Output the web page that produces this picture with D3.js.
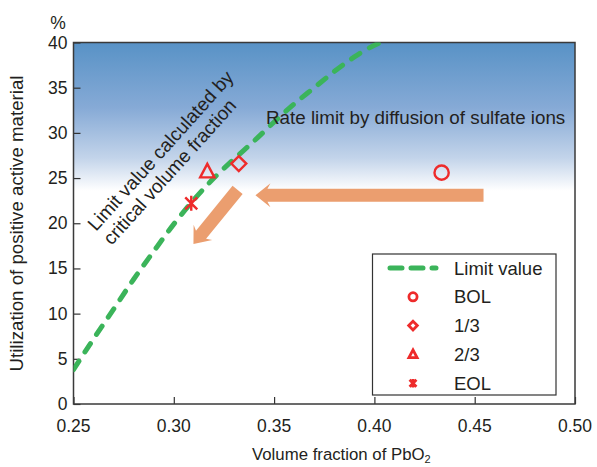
<!DOCTYPE html>
<html lang="en">
<head>
<meta charset="UTF-8">
<title>Utilization vs volume fraction of PbO2</title>
<script src="https://d3js.org/d3.v7.min.js"></script>
<style>
  body { margin: 0; background: #fff; }
  svg text { font-family: "Liberation Sans", Arial, sans-serif; fill: #231f20; }
</style>
</head>
<body>
<div id="chart"></div>
<script>
// limit value curve (volume fraction, utilization %)
const limitX = [0.25, 0.26, 0.27, 0.28, 0.29, 0.30, 0.31, 0.32, 0.33, 0.34, 0.35, 0.36, 0.37, 0.38, 0.39, 0.40, 0.403];
const limitY = [3.8, 7.2, 10.5, 13.8, 16.9, 19.9, 22.6, 25.0, 27.1, 29.1, 31.2, 33.2, 35.0, 36.8, 38.4, 39.7, 40.0];

// measured states
const stateNames = ["BOL", "1/3", "2/3", "EOL"];
const stateX = [0.4335, 0.3324, 0.3167, 0.3087];
const stateY = [25.6, 26.6, 25.7, 22.2];
const stateShapes = ["circle", "diamond", "triangle", "cross"];

const xTicks = [0.25, 0.30, 0.35, 0.40, 0.45, 0.50];
const yTicks = [0, 5, 10, 15, 20, 25, 30, 35, 40];

// annotation arrows, in data units: [x1, y1, x2, y2] tail -> tip
const arrows = [[0.4544, 23.1, 0.3407, 23.1], [0.3318, 23.7, 0.3098, 17.7]];

const W = 597, H = 467;
const margin = { top: 42.5, right: 22, bottom: 63, left: 73.5 };

const svg = d3.select("#chart").append("svg")
    .attr("width", W).attr("height", H);

const x = d3.scaleLinear().domain([0.25, 0.50]).range([margin.left, W - margin.right]);
const y = d3.scaleLinear().domain([0, 40]).range([H - margin.bottom, margin.top]);

const defs = svg.append("defs");
const grad = defs.append("linearGradient").attr("id", "bg")
    .attr("x1", 0).attr("y1", 0).attr("x2", 0).attr("y2", 1);
grad.append("stop").attr("offset", "0%").attr("stop-color", "#5892c6");
grad.append("stop").attr("offset", "18%").attr("stop-color", "#86aad6");
grad.append("stop").attr("offset", "32%").attr("stop-color", "#c3d4ea");
grad.append("stop").attr("offset", "41%").attr("stop-color", "#ffffff");
grad.append("stop").attr("offset", "100%").attr("stop-color", "#ffffff");

defs.append("clipPath").attr("id", "plot")
  .append("rect")
    .attr("x", x(0.25)).attr("y", y(40))
    .attr("width", x(0.50) - x(0.25)).attr("height", y(0) - y(40));

svg.append("rect")
    .attr("x", x(0.25)).attr("y", y(40))
    .attr("width", x(0.50) - x(0.25)).attr("height", y(0) - y(40))
    .attr("fill", "url(#bg)");

// axes with inward ticks
const xAxis = svg.append("g")
    .attr("transform", `translate(0,${y(0)})`)
    .call(d3.axisTop(x).tickValues(xTicks).tickSize(7).tickFormat(d3.format(".2f")));
xAxis.selectAll("text").remove();
svg.append("g").selectAll("text").data(xTicks).join("text")
    .attr("x", d => x(d)).attr("y", y(0) + 28)
    .attr("text-anchor", "middle").attr("font-size", 17.5)
    .text(d3.format(".2f"));

const yAxis = svg.append("g")
    .attr("transform", `translate(${x(0.25)},0)`)
    .call(d3.axisRight(y).tickValues(yTicks).tickSize(7));
yAxis.selectAll("text").remove();
svg.append("g").selectAll("text").data(yTicks).join("text")
    .attr("x", x(0.25) - 6).attr("y", d => y(d) + 6)
    .attr("text-anchor", "end").attr("font-size", 17.5)
    .text(d => d);

svg.selectAll(".domain").remove();
svg.selectAll(".tick line").attr("stroke", "#333").attr("stroke-width", 1.2);

svg.append("rect")
    .attr("x", x(0.25)).attr("y", y(40))
    .attr("width", x(0.50) - x(0.25)).attr("height", y(0) - y(40))
    .attr("fill", "none").attr("stroke", "#3a3a3a").attr("stroke-width", 1.5);

// arrows
const orange = "#eb9e6f";
arrows.forEach(a => {
  const x1 = x(a[0]), y1 = y(a[1]), x2 = x(a[2]), y2 = y(a[3]);
  const len = Math.hypot(x2 - x1, y2 - y1);
  const ang = Math.atan2(y2 - y1, x2 - x1) * 180 / Math.PI;
  const sw = 6.5, hw = 12, hl = 12;
  svg.append("path")
      .attr("transform", `translate(${x1},${y1}) rotate(${ang})`)
      .attr("d", `M0,${-sw}L${len - hl},${-sw}L${len - hl - 3},${-hw}L${len},0L${len - hl - 3},${hw}L${len - hl},${sw}L0,${sw}Z`)
      .attr("fill", orange);
});

// limit value curve
const green = "#3bb45a";
const line = d3.line().x(d => x(d[0])).y(d => y(d[1])).curve(d3.curveMonotoneX);
svg.append("path")
    .datum(limitX.map((v, i) => [v, limitY[i]]))
    .attr("clip-path", "url(#plot)")
    .attr("d", line)
    .attr("fill", "none").attr("stroke", green)
    .attr("stroke-width", 5).attr("stroke-linecap", "round")
    .attr("stroke-dasharray", "10,11");

// markers
const red = "#ee2b2b";
function marker(g, shape, s, w) {
  if (shape === "circle") {
    g.append("circle").attr("r", s * 0.95);
  } else if (shape === "diamond") {
    g.append("path").attr("d", `M0,${-s}L${s},0L0,${s}L${-s},0Z`);
  } else if (shape === "triangle") {
    g.append("path").attr("d", `M0,${-s * 1.05}L${s * 0.95},${s * 0.75}L${-s * 0.95},${s * 0.75}Z`);
  } else {
    g.append("path").attr("d", `M${-s * 0.8},${-s * 0.8}L${s * 0.8},${s * 0.8}M${s * 0.8},${-s * 0.8}L${-s * 0.8},${s * 0.8}M0,${-s}L0,${s}`);
  }
  g.selectAll("circle,path").attr("fill", "none").attr("stroke", red).attr("stroke-width", w);
}
stateNames.forEach((n, i) => {
  const g = svg.append("g").attr("transform", `translate(${x(stateX[i])},${y(stateY[i])})`);
  marker(g, stateShapes[i], 7.5, 2.4);
});

// annotations
svg.append("text")
    .attr("x", 266).attr("y", 124)
    .attr("font-size", 18.8)
    .text("Rate limit by diffusion of sulfate ions");

const rot = svg.append("text")
    .attr("transform", "translate(96,232) rotate(-48)")
    .attr("font-size", 19);
rot.append("tspan").attr("x", 0).attr("y", 0).text("Limit value calculated by");
rot.append("tspan").attr("x", 0).attr("y", 21).text("critical volume fraction");

// legend
const lg = svg.append("g");
lg.append("rect")
    .attr("x", 372.5).attr("y", 254).attr("width", 183.5).attr("height", 141)
    .attr("fill", "#fff").attr("stroke", "#333").attr("stroke-width", 1.2);
const rowY = i => 268 + i * 28.8;
lg.append("line")
    .attr("x1", 390).attr("x2", 436).attr("y1", rowY(0)).attr("y2", rowY(0))
    .attr("stroke", green).attr("stroke-width", 5).attr("stroke-linecap", "round")
    .attr("stroke-dasharray", "12,9");
lg.append("text").attr("x", 454).attr("y", rowY(0) + 6.5).attr("font-size", 18.5).text("Limit value");
stateNames.forEach((n, i) => {
  const g = lg.append("g").attr("transform", `translate(413,${rowY(i + 1)})`);
  marker(g, stateShapes[i], 4.3, 2.8);
  lg.append("text").attr("x", 454).attr("y", rowY(i + 1) + 6.5).attr("font-size", 18.5).text(n);
});

// axis titles
svg.append("text")
    .attr("x", 58).attr("y", 29).attr("text-anchor", "middle").attr("font-size", 17.5)
    .text("%");
svg.append("text")
    .attr("transform", `translate(23,${(75 + 372) / 2}) rotate(-90)`)
    .attr("text-anchor", "middle").attr("font-size", 18.7)
    .text("Utilization of positive active material");
const xl = svg.append("text")
    .attr("x", 252).attr("y", 460).attr("font-size", 16.8);
xl.append("tspan").text("Volume fraction of PbO");
xl.append("tspan").attr("font-size", 11).attr("dy", 3).text("2");
</script>
</body>
</html>
